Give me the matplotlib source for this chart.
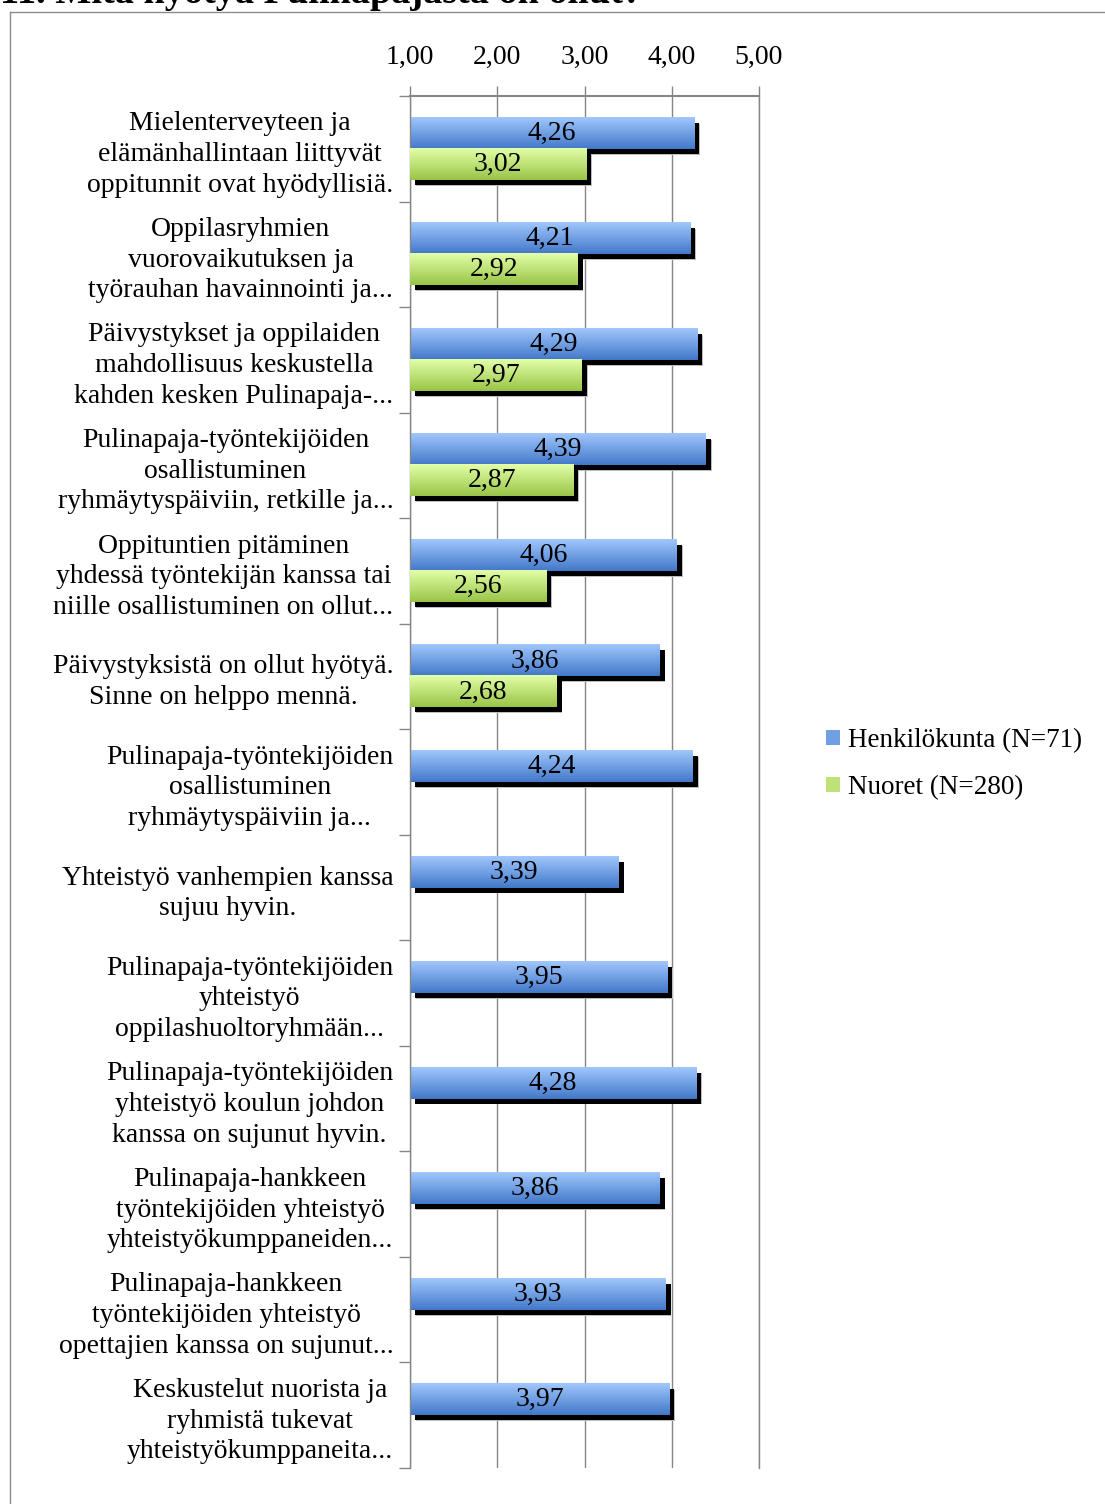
import numpy as np
import matplotlib
matplotlib.use('Agg')
import matplotlib.pyplot as plt
import matplotlib.patheffects as pe
from matplotlib.patches import Patch
from matplotlib.lines import Line2D

plt.rcParams['font.family'] = ['Liberation Serif', 'DejaVu Serif']

# data
categories = [
    "Mielenterveyteen ja\nelämänhallintaan liittyvät\noppitunnit ovat hyödyllisiä.",
    "Oppilasryhmien\nvuorovaikutuksen ja\ntyörauhan havainnointi ja...",
    "Päivystykset ja oppilaiden\nmahdollisuus keskustella\nkahden kesken Pulinapaja-...",
    "Pulinapaja-työntekijöiden\nosallistuminen\nryhmäytyspäiviin, retkille ja...",
    "Oppituntien pitäminen\nyhdessä työntekijän kanssa tai\nniille osallistuminen on ollut...",
    "Päivystyksistä on ollut hyötyä.\nSinne on helppo mennä.",
    "Pulinapaja-työntekijöiden\nosallistuminen\nryhmäytyspäiviin ja...",
    "Yhteistyö vanhempien kanssa\nsujuu hyvin.",
    "Pulinapaja-työntekijöiden\nyhteistyö\noppilashuoltoryhmään...",
    "Pulinapaja-työntekijöiden\nyhteistyö koulun johdon\nkanssa on sujunut hyvin.",
    "Pulinapaja-hankkeen\ntyöntekijöiden yhteistyö\nyhteistyökumppaneiden...",
    "Pulinapaja-hankkeen\ntyöntekijöiden yhteistyö\nopettajien kanssa on sujunut...",
    "Keskustelut nuorista ja\nryhmistä tukevat\nyhteistyökumppaneita...",
]
staff = [4.26, 4.21, 4.29, 4.39, 4.06, 3.86, 4.24, 3.39, 3.95, 4.28, 3.86, 3.93, 3.97]
youth = [3.02, 2.92, 2.97, 2.87, 2.56, 2.68, None, None, None, None, None, None, None]
series_names = ["Henkilökunta (N=71)", "Nuoret (N=280)"]
xticks = [1, 2, 3, 4, 5]

W, H = 1105, 1504
fig = plt.figure(figsize=(W / 100, H / 100), dpi=100)
ax = fig.add_axes([410 / W, 1 - 1468 / H, (759 - 410) / W, (1468 - 96) / H])

blue_top, blue_bot = np.array([0.63, 0.78, 0.99]), np.array([0.26, 0.47, 0.79])
green_top, green_bot = np.array([0.89, 1.0, 0.66]), np.array([0.60, 0.77, 0.28])

def gradient(top, bot, n=64):
    t = np.linspace(0, 1, n)[:, None]
    return (top * (1 - t) + bot * t)[:, None, :]

bh = 0.294
fs = 20
shadow = [pe.SimplePatchShadow(offset=(4.2, -4.2), shadow_rgbFace='#bdbdbd', alpha=1),
          pe.SimplePatchShadow(offset=(3.6, -3.6), shadow_rgbFace='black', alpha=1),
          pe.Normal()]

for i, v in enumerate(staff):
    y0 = i - bh
    ax.barh(y0, v - 1, left=1, height=bh, align='edge', color=blue_bot,
            zorder=2, path_effects=shadow)
    ax.imshow(gradient(blue_top, blue_bot), extent=(1, v, y0 + bh, y0),
              aspect='auto', zorder=2.1, interpolation='bilinear')
    ax.text((1 + v) / 2, y0 + bh / 2, f"{v:.2f}".replace('.', ','),
            ha='center', va='center', fontsize=fs, zorder=5)

for i, v in enumerate(youth):
    if v is None:
        continue
    y0 = i
    ax.barh(y0, v - 1, left=1, height=bh, align='edge', color=green_bot,
            zorder=3, path_effects=shadow)
    ax.imshow(gradient(green_top, green_bot), extent=(1, v, y0 + bh, y0),
              aspect='auto', zorder=3.1, interpolation='bilinear')
    ax.text((1 + v) / 2, y0 + bh / 2, f"{v:.2f}".replace('.', ','),
            ha='center', va='center', fontsize=fs, zorder=5)

ax.set_xlim(1, 5)
ax.set_ylim(len(categories) - 0.5, -0.5)

grid_c = '#868686'
ax.xaxis.tick_top()
ax.set_xticks(xticks)
ax.set_xticklabels([f"{x:.2f}".replace('.', ',') for x in xticks], fontsize=fs)
ax.tick_params(axis='x', direction='out', length=7, width=1, color=grid_c, pad=12)
ax.grid(axis='x', color=grid_c, linewidth=1, zorder=0)
ax.axvline(5, color=grid_c, linewidth=1, zorder=0, clip_on=False)
ax.set_axisbelow(True)

ax.set_yticks(range(len(categories)))
ax.set_yticklabels(categories, fontsize=fs)
for t in ax.get_yticklabels():
    t.set_multialignment('center')
    t.set_linespacing(1.3)
ax.set_yticks(np.arange(-0.5, len(categories), 1), minor=True)
ax.tick_params(axis='y', which='major', length=0, pad=12)
ax.tick_params(axis='y', which='minor', direction='out', length=8, width=1, color=grid_c)

for s in ['right', 'bottom']:
    ax.spines[s].set_visible(False)
for s in ['top', 'left']:
    ax.spines[s].set_color(grid_c)
    ax.spines[s].set_linewidth(1.5 if s == 'top' else 1)

handles = [Patch(facecolor=(blue_top + blue_bot) / 2), Patch(facecolor=(green_top + green_bot) / 2)]
fig.legend(handles, series_names, loc='center left', bbox_to_anchor=(802 / W, 1 - 764 / H),
           frameon=False, fontsize=19.5, handlelength=0.5, handleheight=0.5,
           handletextpad=0.3, labelspacing=0.8)

# outer frame and clipped title
fig.add_artist(Line2D([10 / W, 10 / W], [0, 1 - 12 / H], transform=fig.transFigure,
                      color='#8c8c8c', linewidth=1))
fig.add_artist(Line2D([10 / W, 1], [1 - 12 / H, 1 - 12 / H], transform=fig.transFigure,
                      color='#8c8c8c', linewidth=1))
fig.text(0, 1 - 3 / H, "11. Mitä hyötyä Pulinapajasta on ollut?", fontsize=27.5,
         fontweight='bold', ha='left', va='baseline')

fig.savefig('out.png', dpi=100)
